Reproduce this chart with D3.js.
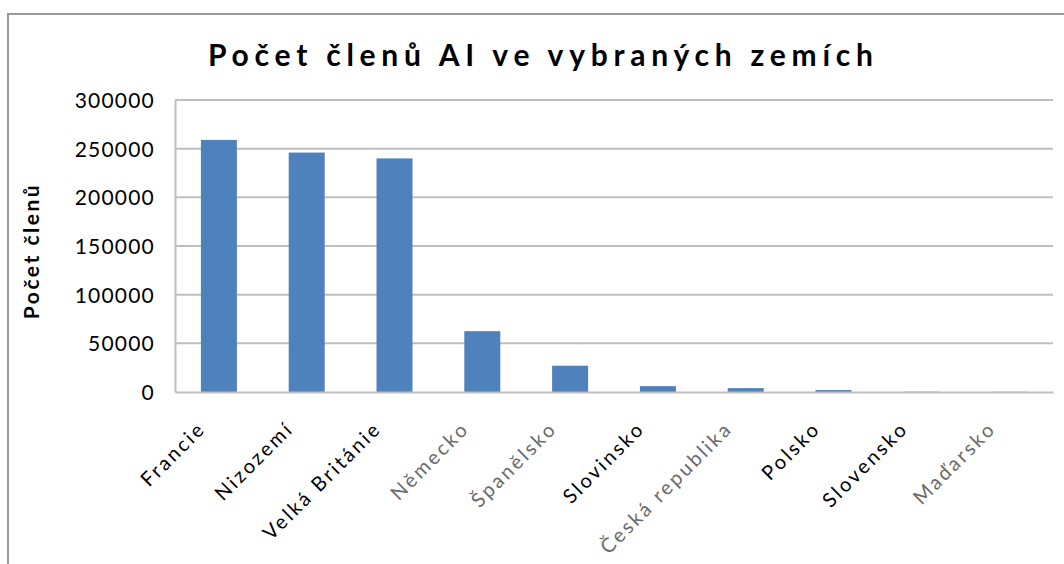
<!DOCTYPE html>
<html><head><meta charset="utf-8">
<script src="https://cdn.jsdelivr.net/npm/d3@7"></script>
<style>
html,body{margin:0;padding:0;background:#fff;}
svg{display:block;}
text{font-family:Lato,"Open Sans",sans-serif;}
</style></head>
<body>
<svg id="chart" width="1064" height="564"></svg>
<script>
const categories = ["Francie","Nizozemí","Velká Británie","Německo","Španělsko","Slovinsko","Česká republika","Polsko","Slovensko","Maďarsko"];
const members = [259000, 246000, 240000, 62500, 27000, 6000, 4000, 2000, 300, 200];
const yTicks = [0, 50000, 100000, 150000, 200000, 250000, 300000];
const title = "Počet členů AI ve vybraných zemích";
const yTitle = "Počet členů";

const svg = d3.select("#chart");
// outer frame (only top/left visible)
svg.append("rect").attr("x",8).attr("y",14).attr("width",1100).attr("height",600)
  .attr("fill","none").attr("stroke","#999").attr("stroke-width",2);

const plot = {left:175, right:1053, top:100, bottom:392};
const x = d3.scaleBand().domain(categories).range([plot.left, plot.right]).paddingInner(0.59).paddingOuter(0.295);
const y = d3.scaleLinear().domain([0,300000]).range([plot.bottom, plot.top]);

// gridlines
svg.append("g").selectAll("line").data(yTicks.filter(d=>d>0)).join("line")
  .attr("x1",plot.left).attr("x2",plot.right)
  .attr("y1",d=>y(d)).attr("y2",d=>y(d))
  .attr("stroke","#bfbfbf").attr("stroke-width",2);

// y axis
const yAxis = svg.append("g").attr("transform",`translate(${plot.left},0)`)
  .call(d3.axisLeft(y).tickValues(yTicks).tickSize(0).tickPadding(20).tickFormat(d3.format("d")));
yAxis.select(".domain").attr("stroke","#bfbfbf").attr("stroke-width",2);
yAxis.selectAll("text").attr("font-size",21).attr("fill","#000").attr("letter-spacing","1.2px").attr("dy","0.35em");

// bars
svg.append("g").selectAll("rect").data(categories).join("rect")
  .attr("x",d=>x(d)).attr("width",x.bandwidth())
  .attr("y",(d,i)=>y(members[i])).attr("height",(d,i)=>plot.bottom - y(members[i]))
  .attr("fill","#4f81bd");

// x axis
const xAxis = svg.append("g").attr("transform",`translate(0,${plot.bottom})`)
  .call(d3.axisBottom(x).tickSize(0).tickPadding(0));
xAxis.select(".domain").attr("stroke","#bfbfbf").attr("stroke-width",2);
const dim = new Set(["Německo","Španělsko","Česká republika","Maďarsko"]);
xAxis.selectAll("text")
  .attr("font-size",20).attr("letter-spacing","2.6px")
  .attr("fill",d=>dim.has(d)?"#6a6a6a":"#000")
  .attr("text-anchor","end")
  .attr("dy",0).attr("y",0)
  .attr("transform","translate(-12,38) rotate(-45)");

// title
svg.append("text").attr("x",541).attr("y",66).attr("text-anchor","middle")
  .attr("font-size",30).attr("font-weight","bold").attr("letter-spacing","1px")
  .attr("textLength",666).attr("lengthAdjust","spacing")
  .text(title);

// y title
svg.append("text").attr("transform","translate(39,251) rotate(-90)")
  .attr("text-anchor","middle").attr("font-size",21).attr("font-weight","bold")
  .attr("letter-spacing","2.5px")
  .text(yTitle);
</script>
</body></html>
